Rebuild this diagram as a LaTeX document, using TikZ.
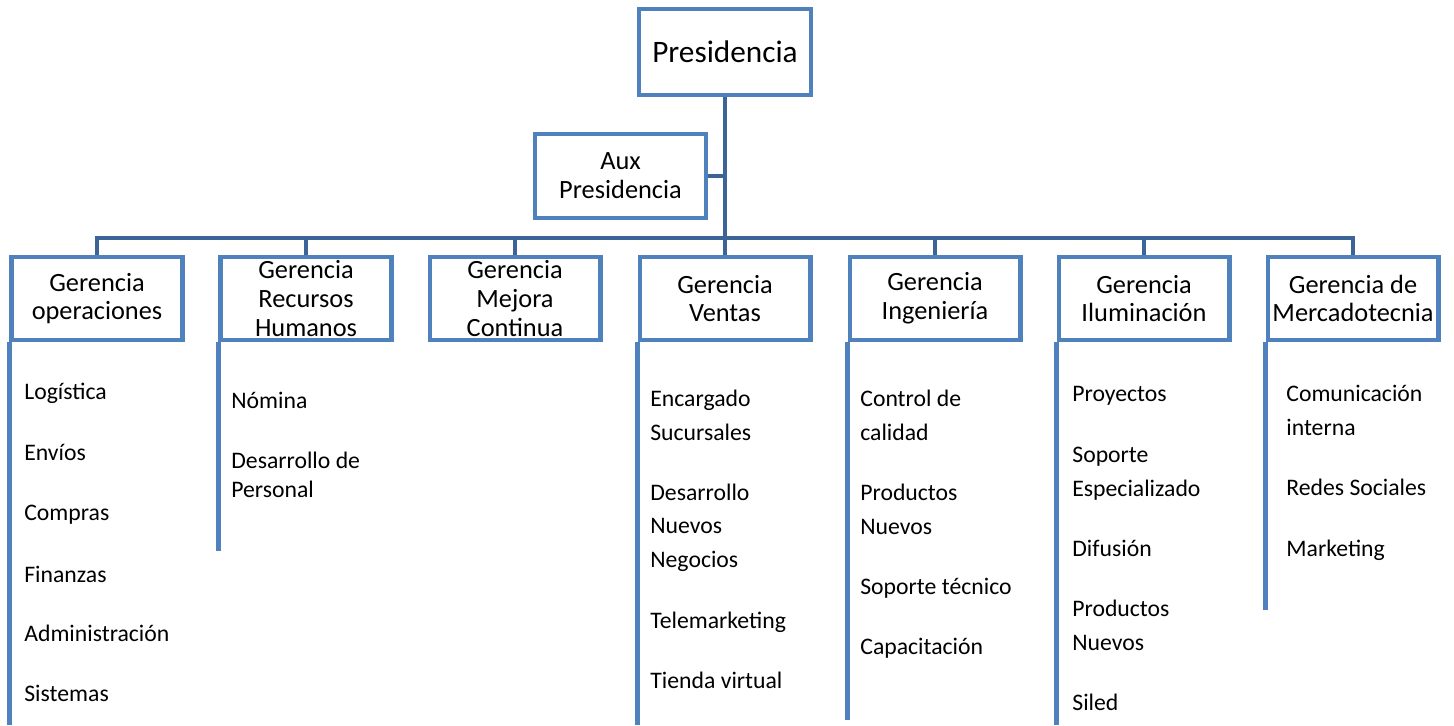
\documentclass[tikz,border=0pt]{standalone}
\usepackage{fontspec}
\setmainfont{Carlito}
\usepackage{xcolor}
\usepackage{tikz}

\definecolor{boxblue}{RGB}{79,129,189}
\definecolor{linkblue}{RGB}{60,100,150}

\tikzset{
	cargo/.style={shape=rectangle, draw=boxblue, line width=2.3pt, fill=white, inner sep=0, minimum width=3.42cm, minimum height=1.66cm, align=center, font=\fontsize{15}{16.4}\selectfont},
	link/.style={draw=linkblue, line width=2.3pt},
	rama/.style={draw=boxblue, line width=2.3pt},
	area/.style={anchor=base west, inner sep=0, align=left, font=\fontsize{13.5}{18.9}\selectfont}
}

\begin{document}
\begin{tikzpicture}[x=0.02cm, y=-0.02cm]
	\useasboundingbox (0, 0) rectangle (1454, 725);
	% Cajas:
	\node[cargo, minimum width=3.44cm, minimum height=1.72cm, font=\fontsize{17.8}{20}\selectfont] (pres) at (725, 52){Presidencia};
	\node[cargo, minimum height=1.68cm] (aux) at (620.5, 176){Aux\\Presidencia};
	\node[cargo] (ope) at (97, 298.5){Gerencia\\operaciones};
	\node[cargo] (rh) at (306, 298.5){Gerencia\\Recursos\\Humanos};
	\node[cargo] (mej) at (515, 298.5){Gerencia\\Mejora\\Continua};
	\node[cargo] (ven) at (725, 298.5){Gerencia\\Ventas};
	\node[cargo] (ing) at (935, 298.5){Gerencia\\Ingeniería};
	\node[cargo] (ilu) at (1144, 298.5){Gerencia\\Iluminación};
	\node[cargo] (mer) at (1353, 298.5){Gerencia de\\Mercadotecnia};
	\coordinate (bus) at (725, 238);
	\coordinate (fondo) at (0, 725);

	% Conectores:
	\draw[link] (pres) -- (ven);
	\draw[link] (aux.east) -- (aux.east -| pres.south);
	\draw[link] (ope.north) |- (bus) -| (mer.north);
	\draw[link] (rh.north) -- (rh.north |- bus);
	\draw[link] (mej.north) -- (mej.north |- bus);
	\draw[link] (ing.north) -- (ing.north |- bus);
	\draw[link] (ilu.north) -- (ilu.north |- bus);

	% Ramas:
	\draw[rama] (ope.south west) -- (ope.south west |- fondo);
	\draw[rama] (rh.south west) -- ++(0, 209);
	\draw[rama] (ven.south west) -- (ven.south west |- fondo);
	\draw[rama] (ing.south west) -- ++(0, 378);
	\draw[rama] (ilu.south west) -- (ilu.south west |- fondo);
	\draw[rama] (mer.south west) -- ++(0, 268);

	% Areas operaciones
	\node[area] (log) at (24, 399){Logística};
	\node[area] (env) at (24, 460){Envíos};
	\node[area] (com) at (24, 520){Compras};
	\node[area] (fin) at (24, 582){Finanzas};
	\node[area] (adm) at (24, 641){Administración};
	\node[area] (sis) at (24, 701){Sistemas};
	% Areas recursos humanos
	\node[area] (nom) at (231, 408){Nómina};
	\node[area, font=\fontsize{13.5}{16}\selectfont] (desp) at (231, 497){Desarrollo de\\Personal};
	% Areas ventas
	\node[area] (enc) at (650, 440){Encargado\\Sucursales};
	\node[area] (dnn) at (650, 567){Desarrollo\\Nuevos\\Negocios};
	\node[area] (tel) at (650, 628){Telemarketing};
	\node[area] (tie) at (650, 688){Tienda virtual};
	% Areas ingenieria
	\node[area] (cal) at (860, 440){Control de\\calidad};
	\node[area] (pni) at (860, 534){Productos\\Nuevos};
	\node[area] (sop) at (860, 594){Soporte técnico};
	\node[area] (cap) at (860, 654){Capacitación};
	% Areas iluminacion
	\node[area] (pro) at (1072, 401){Proyectos};
	\node[area] (spe) at (1072, 496){Soporte\\Especializado};
	\node[area] (dif) at (1072, 556){Difusión};
	\node[area] (pnl) at (1072, 650){Productos\\Nuevos};
	\node[area] (sil) at (1072, 710){Siled};
	% Areas mercadotecnia
	\node[area] (cin) at (1286, 435){Comunicación\\interna};
	\node[area] (red) at (1286, 495){Redes Sociales};
	\node[area] (mkt) at (1286, 556){Marketing};
\end{tikzpicture}
\end{document}
